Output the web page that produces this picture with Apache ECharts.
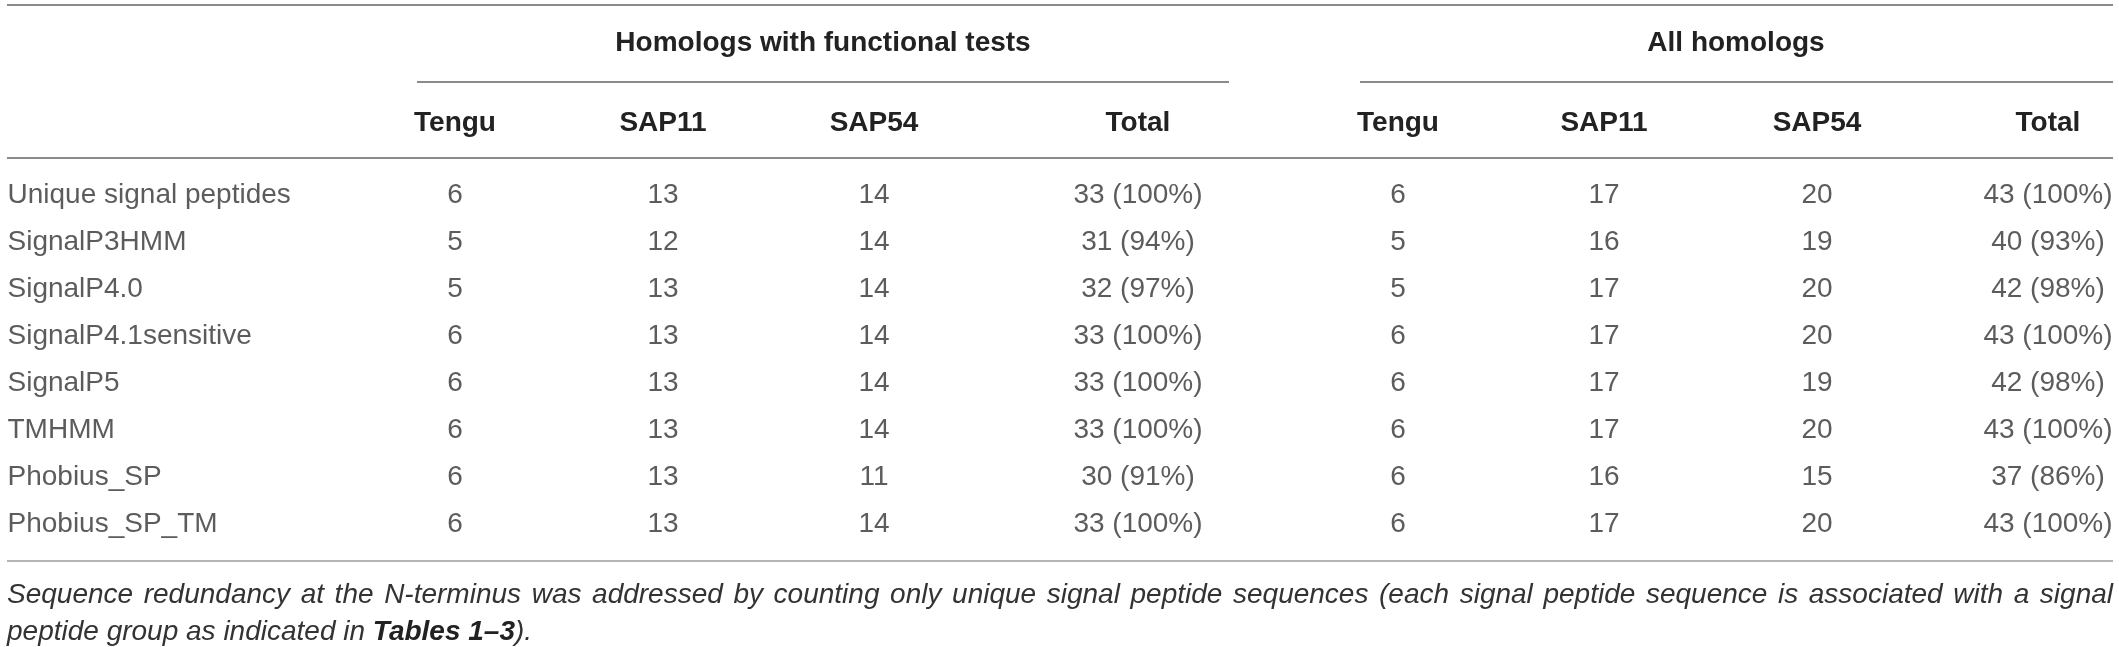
<!DOCTYPE html>
<html lang="en">
<head>
    <meta charset="UTF-8">
    <title>Signal peptide prediction summary</title>
    <script src="https://cdn.jsdelivr.net/npm/echarts@6/dist/echarts.min.js"></script>
    <style>
        html, body { margin: 0; padding: 0; background: #fff; }
        #table-chart { width: 2119px; height: 647px; }
    </style>
</head>
<body>
<div id="table-chart"></div>
<script>
    // table content
    const groups = ['Homologs with functional tests', 'All homologs'];
    const columns = ['Tengu', 'SAP11', 'SAP54', 'Total', 'Tengu', 'SAP11', 'SAP54', 'Total'];
    const methods = ['Unique signal peptides', 'SignalP3HMM', 'SignalP4.0', 'SignalP4.1sensitive',
        'SignalP5', 'TMHMM', 'Phobius_SP', 'Phobius_SP_TM'];

    const tenguTested = [6, 5, 5, 6, 6, 6, 6, 6];
    const sap11Tested = [13, 12, 13, 13, 13, 13, 13, 13];
    const sap54Tested = [14, 14, 14, 14, 14, 14, 11, 14];
    const totalTested = [33, 31, 32, 33, 33, 33, 30, 33];
    const pctTested = [100, 94, 97, 100, 100, 100, 91, 100];

    const tenguAll = [6, 5, 5, 6, 6, 6, 6, 6];
    const sap11All = [17, 16, 17, 17, 17, 17, 16, 17];
    const sap54All = [20, 19, 20, 20, 19, 20, 15, 20];
    const totalAll = [43, 40, 42, 43, 42, 43, 37, 43];
    const pctAll = [100, 93, 98, 100, 98, 100, 86, 100];

    const footLine1 = 'Sequence redundancy at the N-terminus was addressed by counting only unique signal peptide sequences (each signal peptide sequence is associated with a signal';
    const footLine2a = 'peptide group as indicated in ';
    const footLine2b = 'Tables 1\u20133';
    const footLine2c = ').';

    // layout (pixels)
    const W = 2119;
    const FONT = '"Liberation Sans", Arial, Helvetica, sans-serif';
    const textColor = '#333';
    const colX = [455, 663, 874, 1138, 1398, 1604, 1817, 2048];
    const labelX = 7;
    const left = 7, right = 2113;
    const rowTop = 171.5, rowH = 47.1;

    const columnValues = [
        tenguTested, sap11Tested, sap54Tested,
        totalTested.map((v, i) => v + ' (' + pctTested[i] + '%)'),
        tenguAll, sap11All, sap54All,
        totalAll.map((v, i) => v + ' (' + pctAll[i] + '%)')
    ];

    const chart = echarts.init(document.getElementById('table-chart'), null, { renderer: 'canvas' });

    const cellSeries = columnValues.map((vals, c) => ({
        type: 'scatter',
        symbolSize: 1,
        itemStyle: { color: 'rgba(0,0,0,0)' },
        silent: true,
        label: {
            show: true,
            position: 'inside',
            formatter: p => p.data[2],
            fontFamily: FONT,
            fontSize: 28,
            color: textColor
        },
        data: vals.map((v, r) => [colX[c], methods[r], String(v)])
    }));

    const labelSeries = {
        type: 'scatter',
        symbolSize: 1,
        itemStyle: { color: 'rgba(0,0,0,0)' },
        silent: true,
        label: {
            show: true,
            position: 'right',
            distance: 0,
            formatter: p => p.data[1],
            fontFamily: FONT,
            fontSize: 28,
            color: textColor
        },
        data: methods.map(m => [labelX, m])
    };

    function rule(x1, x2, y, color) {
        return {
            type: 'line',
            silent: true,
            shape: { x1: x1, y1: y, x2: x2, y2: y },
            style: { stroke: color, lineWidth: 2 }
        };
    }

    function headText(text, x, y) {
        return {
            type: 'text',
            silent: true,
            x: x, y: y,
            style: {
                text: text,
                font: 'bold 28px ' + FONT,
                fill: '#222',
                align: 'center',
                verticalAlign: 'middle'
            }
        };
    }

    // justify the first footnote line across the table width
    function justifiedWords(text, y) {
        const font = 'italic 28px ' + FONT;
        const ctx = document.createElement('canvas').getContext('2d');
        ctx.font = font;
        const words = text.split(' ');
        const widths = words.map(w => ctx.measureText(w).width);
        const sum = widths.reduce((a, b) => a + b, 0);
        const gap = (right - left - sum) / (words.length - 1);
        let x = left;
        return words.map((w, i) => {
            const el = {
                type: 'text', silent: true, x: x, y: y,
                style: { text: w, font: font, fill: textColor, verticalAlign: 'middle' }
            };
            x += widths[i] + gap;
            return el;
        });
    }

    const graphics = [
        rule(left, right, 5, '#8a8a8a'),
        rule(417, 1229, 82, '#8a8a8a'),
        rule(1360, right, 82, '#8a8a8a'),
        rule(left, right, 158, '#8a8a8a'),
        rule(left, right, 561, '#b4b4b4'),
        headText(groups[0], 823, 43),
        headText(groups[1], 1736, 43)
    ];
    columns.forEach((c, i) => graphics.push(headText(c, colX[i], 123)));
    justifiedWords(footLine1, 595).forEach(g => graphics.push(g));
    graphics.push({
        type: 'text', silent: true, x: left, y: 632,
        style: {
            text: '{i|' + footLine2a + '}{b|' + footLine2b + '}{i|' + footLine2c + '}',
            verticalAlign: 'middle',
            rich: {
                i: { font: 'italic 28px ' + FONT, fill: textColor },
                b: { font: 'italic bold 28px ' + FONT, fill: '#222' }
            }
        }
    });

    chart.setOption({
        animation: false,
        grid: {
            left: 0, right: 0,
            top: rowTop, height: rowH * methods.length,
            outerBoundsMode: 'none'
        },
        xAxis: { type: 'value', min: 0, max: W, show: false },
        yAxis: { type: 'category', data: methods, inverse: true, show: false },
        series: cellSeries.concat([labelSeries]),
        graphic: graphics
    });
</script>
</body>
</html>
